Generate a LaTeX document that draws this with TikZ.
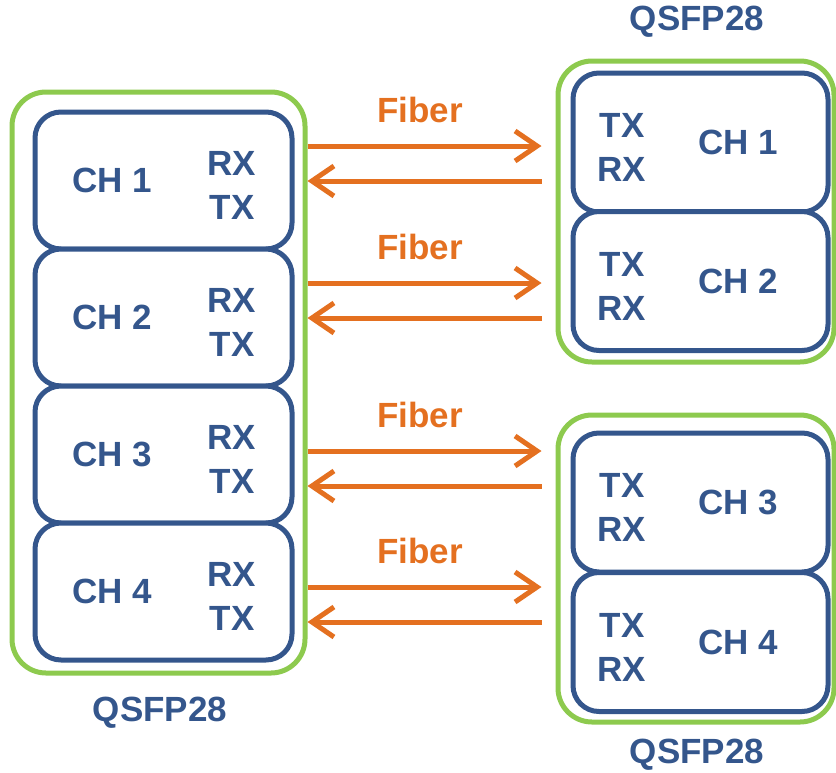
\documentclass[tikz,border=0pt]{standalone}
\usepackage{fontspec}
\setmainfont{Liberation Sans}
\usetikzlibrary{arrows.meta}

\definecolor{modgreen}{RGB}{141,202,78}
\definecolor{chblue}{RGB}{52,86,140}
\definecolor{fibreorange}{RGB}{228,112,32}

\begin{document}
\begin{tikzpicture}[x=0.5pt, y=-0.5pt,
    module/.style={draw=modgreen, line width=2.5pt, rounded corners=17pt},
    chan/.style={draw=chblue, line width=2.5pt, rounded corners=13pt, fill=white},
    lbl/.style={text=chblue, align=center, font=\bfseries\fontsize{17.5}{22}\selectfont},
    fibre/.style={draw=fibreorange, line width=2.5pt, -{Straight Barb[length=11pt, width=15pt]}},
    fibretxt/.style={text=fibreorange, font=\bfseries\fontsize{17.5}{22}\selectfont}]
    \useasboundingbox (0,0) rectangle (836,772);

    % modules
    \node[module, minimum width=146.5pt, minimum height=290.5pt] (Lmod) at (158.5,382.5) {};
    \node[module, minimum width=138pt, minimum height=150.5pt] (Rtop) at (696,211.5) {};
    \node[module, minimum width=138pt, minimum height=153.5pt] (Rbot) at (696,568.5) {};

    \node[lbl] (Lname) at (160,713) {QSFP28};
    \node[lbl] (Rtopname) at (697,22) {QSFP28};
    \node[lbl] (Rbotname) at (697,755) {QSFP28};

    % left channels
    \foreach \i/\y in {1/180.5, 2/317.5, 3/454.5, 4/591.5} {
      \node[chan, minimum width=128.5pt, minimum height=68.5pt] (L\i) at (163.5,\y) {};
      \node[lbl] (L\i ch) at (112,\y) {CH \i};
      \node[lbl] (L\i io) at (232,\y+4.5) {RX\\TX};
    }

    % right channels
    \foreach \i/\y in {1/142.5, 2/281, 3/502.5, 4/642} {
      \node[chan, minimum width=127.5pt, minimum height=69.5pt] (R\i) at (700.5,\y) {};
      \node[lbl] (R\i ch) at (738,\y) {CH \i};
      \node[lbl] (R\i io) at (622,\y+5) {TX\\RX};
    }

    % fibres
    \foreach \i/\y/\m in {1/146/Rtop, 2/283/Rtop, 3/451/Rbot, 4/587/Rbot} {
      \node[fibretxt] (F\i) at (420,\y-36) {Fiber};
      \draw[fibre] (Lmod.east |- 0,\y) -- ([xshift=-7pt]\m.west |- 0,\y);
      \draw[fibre] ([xshift=-7pt]\m.west |- 0,\y+35) -- (Lmod.east |- 0,\y+35);
    }
\end{tikzpicture}
\end{document}
